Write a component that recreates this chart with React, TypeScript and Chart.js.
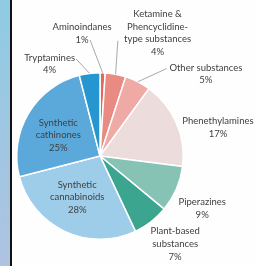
import React, { useEffect, useRef } from "react";
import { Chart, registerables } from "chart.js";

Chart.register(...registerables);

const categories = [
  "Aminoindanes",
  "Ketamine & Phencyclidine-type substances",
  "Other substances",
  "Phenethylamines",
  "Piperazines",
  "Plant-based substances",
  "Synthetic cannabinoids",
  "Synthetic cathinones",
  "Tryptamines",
];
const shares = [1, 4, 5, 17, 9, 7, 28, 25, 4];
const sliceColors = [
  "#e4665d",
  "#e98b82",
  "#efaaa5",
  "#ecdcdc",
  "#86c3b5",
  "#3ca58f",
  "#9ecdea",
  "#5ba8da",
  "#2596cf",
];
const labelLines = [
  ["Aminoindanes", "1%"],
  ["Ketamine &", "Phencyclidine-", "type substances", "4%"],
  ["Other substances", "5%"],
  ["Phenethylamines", "17%"],
  ["Piperazines", "9%"],
  ["Plant-based", "substances", "7%"],
  ["Synthetic", "cannabinoids", "28%"],
  ["Synthetic", "cathinones", "25%"],
  ["Tryptamines", "4%"],
];

// label layout: clock angle (deg from top, clockwise) and distance in radii
const labelAngle = [351.7, 25.1, 52.2, 76.5, 117.2, 139.5, 209, 296.6, 331.3];
const labelDist = [1.49, 1.63, 1.61, 1.457, 1.38, 1.39, 0.565, 0.56, 1.26];
// leader lines (null = none)
const leaderAngle = [355.1, 8.8, 37.3, null, null, null, null, null, 346.2];
const leaderDist = [1.4, 1.4, 1.32, null, null, null, null, null, 1.2];

const LINE_H = 12.6;

const labelPlugin = {
  id: "pieLabels",
  afterDatasetsDraw(chart: any) {
    const ctx = chart.ctx;
    const meta = chart.getDatasetMeta(0);
    ctx.save();
    meta.data.forEach((arc: any, i: number) => {
      const p = arc.getProps(["x", "y", "startAngle", "endAngle", "outerRadius"], true);
      const r = p.outerRadius;
      const toPt = (clockDeg: number, d: number) => {
        const a = ((clockDeg - 90) * Math.PI) / 180;
        return { x: p.x + Math.cos(a) * r * d, y: p.y + Math.sin(a) * r * d };
      };
      const la = leaderAngle[i];
      const ld = leaderDist[i];
      if (la !== null && ld !== null) {
        const mid = (p.startAngle + p.endAngle) / 2;
        const sx = p.x + Math.cos(mid) * r;
        const sy = p.y + Math.sin(mid) * r;
        const e = toPt(la as number, ld as number);
        ctx.beginPath();
        ctx.strokeStyle = "#a9a9a9";
        ctx.lineWidth = 1;
        ctx.moveTo(sx, sy);
        ctx.lineTo(e.x, e.y);
        ctx.stroke();
      }
      const c = toPt(labelAngle[i], labelDist[i]);
      const lines = labelLines[i];
      ctx.fillStyle = "#404040";
      ctx.font = "9.5px Lato, 'Open Sans', sans-serif";
      ctx.textAlign = "center";
      ctx.textBaseline = "middle";
      const top = c.y - ((lines.length - 1) * LINE_H) / 2;
      lines.forEach((t, k) => ctx.fillText(t, c.x, top + k * LINE_H));
    });
    ctx.restore();
  },
};

export default function App() {
  const ref = useRef<HTMLCanvasElement | null>(null);
  useEffect(() => {
    if (!ref.current) return;
    const chart = new Chart(ref.current, {
      type: "pie",
      data: {
        labels: categories,
        datasets: [
          {
            data: shares,
            backgroundColor: sliceColors,
            borderColor: "#ffffff",
            borderWidth: 1.5,
          },
        ],
      },
      options: {
        responsive: false,
        animation: false,
        layout: { padding: { left: 16, right: 71, top: 72, bottom: 26 } },
        plugins: { legend: { display: false }, tooltip: { enabled: false } },
      },
      plugins: [labelPlugin],
    });
    return () => chart.destroy();
  }, []);
  return (
    <div
      style={{
        position: "fixed",
        left: 0,
        top: 0,
        width: 255,
        height: 266,
        background: "#fefefe",
        overflow: "hidden",
      }}
    >
      <div
        style={{
          position: "absolute",
          left: 0,
          top: 0,
          width: 10,
          height: 266,
          background: "linear-gradient(#90cbe4, #aec3e1)",
        }}
      />
      <div
        style={{
          position: "absolute",
          left: 10,
          top: 0,
          width: 2,
          height: 266,
          background: "#111",
        }}
      />
      <canvas
        ref={ref}
        width={255}
        height={266}
        style={{ position: "absolute", left: 0, top: 0, width: 255, height: 266 }}
      />
    </div>
  );
}
